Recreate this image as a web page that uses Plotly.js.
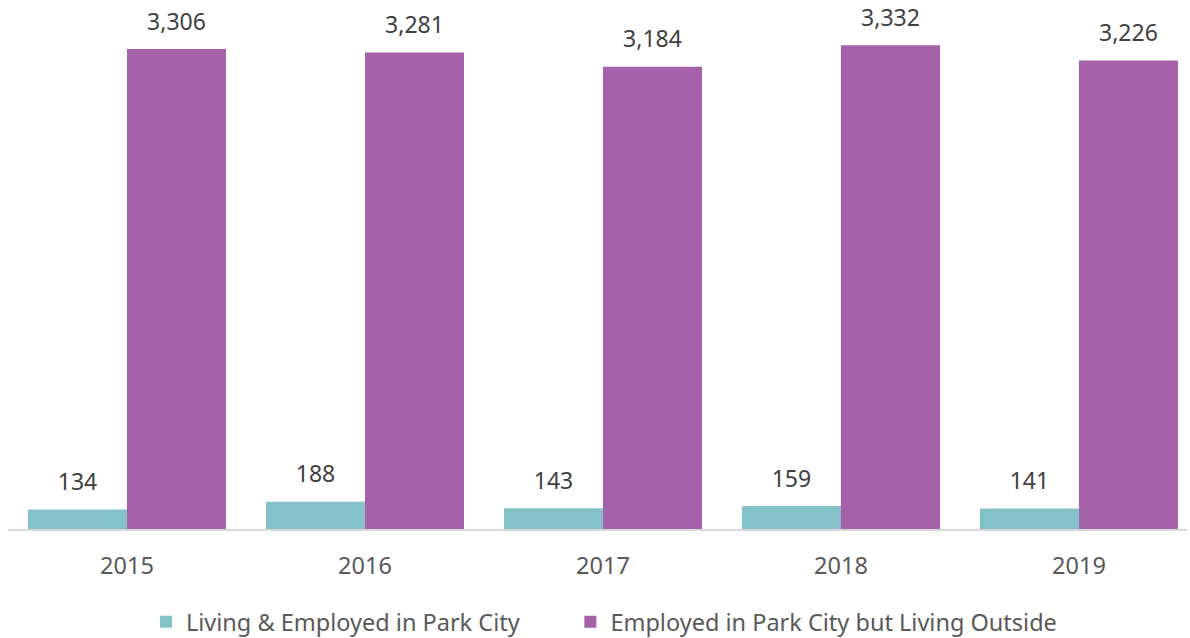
<!DOCTYPE html>
<html>
<head>
<meta charset="utf-8">
<script src="https://cdn.plot.ly/plotly-3.0.1.min.js"></script>
<style>html,body{margin:0;padding:0;background:#fff;}#chart{width:1190px;height:638px;}</style>
</head>
<body>
<div id="chart"></div>
<script>
const years = ["2015", "2016", "2017", "2018", "2019"];
const livingInside = [134, 188, 143, 159, 141];
const livingOutside = [3306, 3281, 3184, 3332, 3226];
const seriesNames = ["Living & Employed in Park City", "Employed in Park City but Living Outside"];
const colors = ["#85C1C8", "#A661AB"];

const font = "Noto Sans, Open Sans, sans-serif";
const fmt = v => v.toLocaleString("en-US");
const labelFont = {family: font, size: 23, color: "#404040"};

const series = [livingInside, livingOutside];
const traces = [];
series.forEach((vals, si) => {
  traces.push({type: "bar", x: years, y: vals, name: seriesNames[si],
    legend: si === 0 ? "legend" : "legend2",
    marker: {color: colors[si]}, hoverinfo: "x+y"});
});
series.forEach((vals, si) => {
  traces.push({type: "scatter", mode: "markers+text", x: years, y: vals,
    text: vals.map(fmt), textposition: "top center", textfont: labelFont,
    marker: {size: 20, opacity: 0, color: colors[si]}, cliponaxis: false,
    showlegend: false, hoverinfo: "skip"});
});

const legendFont = {family: font, size: 23.5, color: "#595959"};
const layout = {
  width: 1190, height: 638,
  margin: {l: 8, r: 3, t: 10, b: 109, autoexpand: false},
  paper_bgcolor: "#fff", plot_bgcolor: "#fff",
  barmode: "group", bargap: 0.168, bargroupgap: 0,
  scattermode: "group", scattergap: 0.168,
  font: {family: font, color: "#595959"},
  xaxis: {type: "category", range: [-0.5, 4.454], showline: true, linecolor: "#D9D9D9", linewidth: 2,
          ticks: "outside", ticklen: 15, tickcolor: "rgba(0,0,0,0)",
          tickfont: {family: font, size: 23.5, color: "#595959"}, showgrid: false, zeroline: false},
  yaxis: {range: [0, 3574], showticklabels: false, showline: false, ticks: "", showgrid: false, zeroline: false},
  showlegend: true,
  legend: {orientation: "h", x: 0.117, xanchor: "left", y: -0.179, yanchor: "middle", font: legendFont},
  legend2: {orientation: "h", x: 0.477, xanchor: "left", y: -0.179, yanchor: "middle", font: legendFont}
};

Plotly.newPlot("chart", traces, layout, {displayModeBar: false});
</script>
</body>
</html>
